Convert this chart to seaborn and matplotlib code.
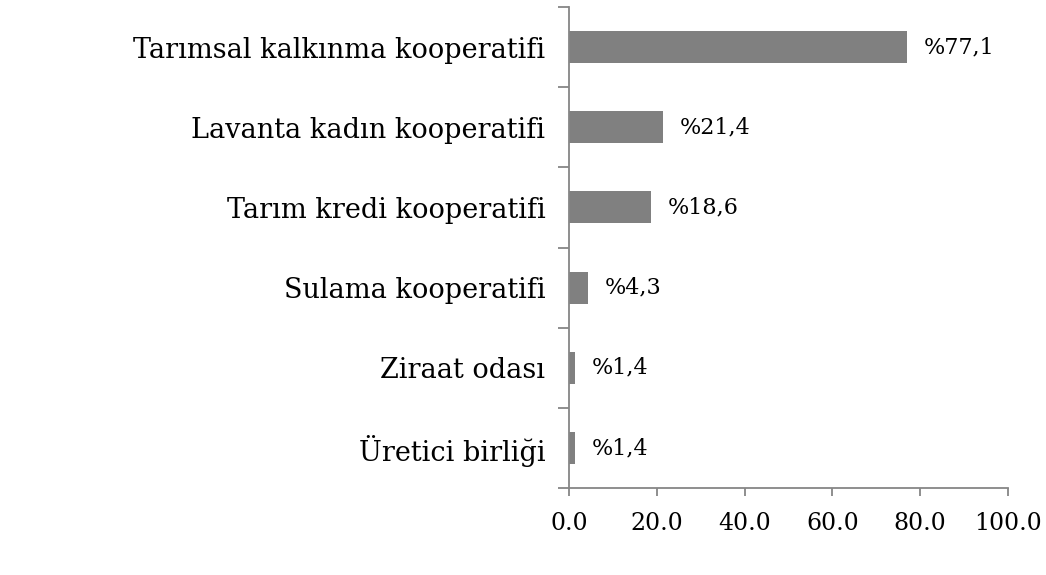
import numpy as np
import pandas as pd
import matplotlib
matplotlib.use("Agg")
import matplotlib.pyplot as plt
import seaborn as sns
from matplotlib.ticker import FixedLocator, FixedFormatter

# Data
categories = ["Tarımsal kalkınma kooperatifi", "Lavanta kadın kooperatifi",
              "Tarım kredi kooperatifi", "Sulama kooperatifi",
              "Ziraat odası", "Üretici birliği"]
values = [77.1, 21.4, 18.6, 4.3, 1.4, 1.4]
value_labels = ["%77,1", "%21,4", "%18,6", "%4,3", "%1,4", "%1,4"]
x_ticks = [0, 20, 40, 60, 80, 100]

df = pd.DataFrame({"kategori": categories, "oran": values})

sns.set_style("white")
plt.rcParams["font.family"] = ["DejaVu Serif"]
plt.rcParams["text.color"] = "black"
plt.rcParams["xtick.color"] = "black"
plt.rcParams["ytick.color"] = "black"

fig = plt.figure(figsize=(10.46, 5.75), dpi=100)
ax = fig.add_axes([0.544, 0.151, 0.4197, 0.837])

sns.barplot(data=df, y="kategori", x="oran", orient="h", color="#808080",
            saturation=1, width=0.4, ax=ax)
for p in ax.patches:
    p.set_edgecolor("none")

ax.bar_label(ax.containers[0], labels=value_labels, padding=12, fontsize=16, color="black")

axis_col = "#868686"
for side in ["top", "right"]:
    ax.spines[side].set_visible(False)
for side in ["left", "bottom"]:
    ax.spines[side].set_color(axis_col)
    ax.spines[side].set_linewidth(1.3)

ax.set_xlim(0, 100)
ax.set_ylim(len(categories) - 0.5, -0.5)
ax.set_xticks(x_ticks)
ax.set_xticklabels([f"{t:.1f}" for t in x_ticks], fontsize=17)
ax.tick_params(axis="x", bottom=True, direction="out", length=6, width=1.3,
               color=axis_col, labelcolor="black", pad=11)

# y ticks: marks between categories, labels at centers
n = len(categories)
ax.yaxis.set_major_locator(FixedLocator(np.arange(-0.5, n, 1.0)))
ax.yaxis.set_major_formatter(FixedFormatter([""] * (n + 1)))
ax.yaxis.set_minor_locator(FixedLocator(np.arange(n)))
ax.yaxis.set_minor_formatter(FixedFormatter(categories))
ax.tick_params(axis="y", which="major", left=True, direction="out", length=8,
               width=1.3, color=axis_col)
ax.tick_params(axis="y", which="minor", left=True, length=0, pad=17,
               labelsize=19.5, labelcolor="black")
ax.set_xlabel("")
ax.set_ylabel("")

fig.savefig("out.png", dpi=100)
